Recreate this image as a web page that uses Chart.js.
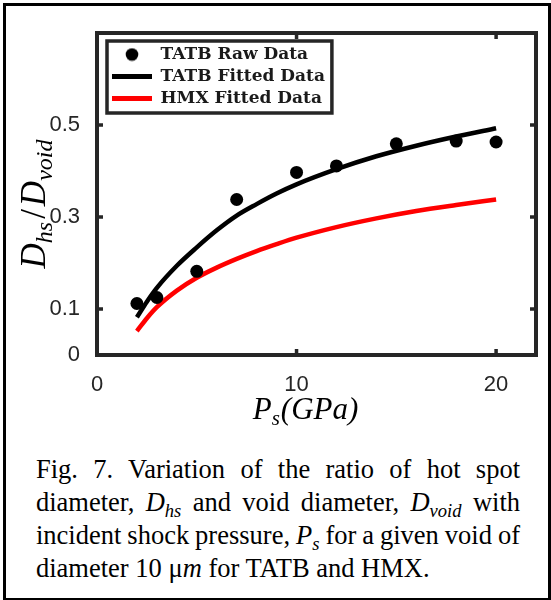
<!DOCTYPE html>
<html>
<head>
<meta charset="utf-8">
<script src="https://cdn.jsdelivr.net/npm/chart.js@4.4.0/dist/chart.umd.min.js"></script>
<style>
html,body{margin:0;padding:0;background:#fff;width:551px;height:600px;overflow:hidden;}
#frame{position:absolute;left:3px;top:3px;width:548px;height:597px;box-sizing:border-box;border:3px solid #000;border-bottom-width:2px;}
#wrap{position:absolute;left:0;top:0;width:551px;height:440px;}
#caption{position:absolute;left:36px;top:453px;width:484px;font-family:"Liberation Serif","Times New Roman",serif;font-size:26.5px;line-height:33px;color:#000;}
#caption .ln{text-align:justify;text-align-last:justify;white-space:nowrap;}
#caption .ln.last{text-align:left;text-align-last:left;}
#caption sub{font-size:70%;vertical-align:-0.3em;line-height:0;}
</style>
</head>
<body>
<div id="frame"></div>
<div id="wrap"><canvas id="c" width="551" height="440"></canvas></div>
<div id="caption">
<div class="ln">Fig. 7. Variation of the ratio of hot spot</div>
<div class="ln">diameter, <i>D</i><sub><i>hs</i></sub> and void diameter, <i>D</i><sub><i>void</i></sub> with</div>
<div class="ln">incident shock pressure, <i>P</i><sub><i>s</i></sub> for a given void of</div>
<div class="ln last">diameter 10 μ<i>m</i> for TATB and HMX.</div>
</div>
<script>
// ---- data ----
const RAW_X = [2, 3, 5, 7, 10, 12, 15, 18, 20];
const RAW_Y = [0.112, 0.125, 0.182, 0.338, 0.397, 0.411, 0.459, 0.465, 0.463];
const FIT_X = [2, 2.5, 3, 4, 5, 6, 7, 8, 9, 10, 12, 14, 16, 18, 20];
const TATB_FIT = [0.082, 0.116, 0.146, 0.194, 0.234, 0.271, 0.303, 0.328, 0.351, 0.371, 0.404, 0.432, 0.455, 0.475, 0.493];
const HMX_FIT  = [0.052, 0.080, 0.104, 0.140, 0.168, 0.190, 0.209, 0.226, 0.241, 0.255, 0.278, 0.297, 0.313, 0.326, 0.338];
const X_TICKS = [0, 10, 20];
const Y_TICKS = [0, 0.1, 0.3, 0.5];
const SERIES_LABELS = ['TATB Raw Data', 'TATB Fitted Data', 'HMX Fitted Data'];

const AXIS_COLOR = '#262626';

// squeeze caption lines that are naturally wider than the column
document.querySelectorAll('#caption .ln').forEach(el => {
  const over = el.scrollWidth - el.clientWidth;
  if (over > 0) {
    const spaces = (el.textContent.match(/ /g) || []).length || 1;
    el.style.wordSpacing = (-(over + 1) / spaces) + 'px';
  }
});

// legend dot marker
const dot = document.createElement('canvas');
dot.width = 14; dot.height = 14;
(function(){const g = dot.getContext('2d'); g.fillStyle = '#000'; g.beginPath(); g.arc(7,7,6.3,0,Math.PI*2); g.fill();})();

const pts = (xs, ys) => xs.map((x, i) => ({x: x, y: ys[i]}));

const framePlugin = {
  id: 'framePlugin',
  afterLayout(chart) {
    const lg = chart.legend, ca = chart.chartArea;
    if (!lg) return;
    const w = lg.width, h = lg.height;
    lg.left = ca.left + 10; lg.top = ca.top + 8;
    lg.right = lg.left + w; lg.bottom = lg.top + h;
  },
  afterDraw(chart) {
    const ctx = chart.ctx, ca = chart.chartArea;
    const xs = chart.scales.x, ys = chart.scales.y;
    ctx.save();
    // inward tick marks on all four sides
    ctx.strokeStyle = AXIS_COLOR; ctx.lineWidth = 3.5; ctx.lineCap = 'butt';
    ctx.beginPath();
    xs.ticks.forEach(t => {
      const px = xs.getPixelForValue(t.value);
      if (px <= ca.left + 3 || px >= ca.right - 3) return;
      ctx.moveTo(px, ca.bottom); ctx.lineTo(px, ca.bottom - 6);
      ctx.moveTo(px, ca.top); ctx.lineTo(px, ca.top + 6);
    });
    ys.ticks.forEach(t => {
      const py = ys.getPixelForValue(t.value);
      if (py >= ca.bottom - 3 || py <= ca.top + 3) return;
      ctx.moveTo(ca.left, py); ctx.lineTo(ca.left + 6, py);
      ctx.moveTo(ca.right, py); ctx.lineTo(ca.right - 6, py);
    });
    ctx.stroke();
    // axes box
    ctx.lineWidth = 4;
    ctx.strokeRect(ca.left, ca.top, ca.right - ca.left, ca.bottom - ca.top);

    // legend box
    const lg = chart.legend;
    if (lg) {
      const lo = lg.options.labels;
      const f = Chart.helpers.toFont(lo.font);
      ctx.font = f.string;
      let mw = 0;
      lg.legendItems.forEach(it => { mw = Math.max(mw, ctx.measureText(it.text).width); });
      const pad = lo.padding;
      const left = lg.left, top = lg.top;
      const right = lg.left + pad + lo.pointStyleWidth + f.size / 2 + mw + 7;
      const bottom = lg.top + pad + lg.legendItems.length * (f.size + pad) + 1;
      ctx.lineWidth = 3.5; ctx.strokeStyle = AXIS_COLOR;
      ctx.strokeRect(left, top, right - left, bottom - top);
    }

    // axis titles (math italic with subscripts)
    const fam = '"Liberation Serif", "Times New Roman", serif';
    function runs(parts) {
      let w = 0;
      parts.forEach(p => { ctx.font = p.f; p.w = ctx.measureText(p.t).width; w += p.w + (p.gap || 0); });
      return w;
    }
    function drawRuns(parts, x0, y0) {
      let x = x0;
      parts.forEach(p => { ctx.font = p.f; ctx.fillText(p.t, x, y0 + (p.dy || 0)); x += p.w + (p.gap || 0); });
    }
    ctx.fillStyle = '#000'; ctx.textBaseline = 'alphabetic'; ctx.textAlign = 'left';
    // x title: P_s(GPa)
    const xBig = 'italic 31px ' + fam, xSmall = 'italic 21px ' + fam;
    const xp = [{t:'P', f:xBig}, {t:'s', f:xSmall, dy:6, gap:1}, {t:'(GPa)', f:xBig}];
    const xw = runs(xp);
    drawRuns(xp, (ca.left + ca.right) / 2 - 11 - xw / 2, ca.bottom + 64);
    // y title: D_hs / D_void
    const yBig = 'italic 35px ' + fam, ySmall = 'italic 24px ' + fam, yUp = '35px ' + fam;
    const yp = [{t:'D', f:yBig}, {t:'hs', f:ySmall, dy:7, gap:3}, {t:'/', f:yUp, gap:3}, {t:'D', f:yBig}, {t:'void', f:ySmall, dy:7}];
    const yw = runs(yp);
    ctx.translate(45, (ca.top + ca.bottom) / 2 + 10);
    ctx.rotate(-Math.PI / 2);
    drawRuns(yp, -yw / 2, 0);
    ctx.restore();
  }
};

const tickFont = {family: '"Liberation Sans", Arial, sans-serif', size: 22};

new Chart(document.getElementById('c'), {
  type: 'scatter',
  data: {
    datasets: [
      {
        label: SERIES_LABELS[0],
        data: pts(RAW_X, RAW_Y),
        showLine: false,
        pointStyle: 'circle',
        pointRadius: 6.5,
        pointHoverRadius: 6.5,
        backgroundColor: '#000',
        borderColor: '#000',
        borderWidth: 0,
        order: 0
      },
      {
        label: SERIES_LABELS[1],
        data: pts(FIT_X, TATB_FIT),
        showLine: true,
        pointRadius: 0,
        borderColor: '#000',
        backgroundColor: '#000',
        borderWidth: 4.5,
        cubicInterpolationMode: 'monotone',
        order: 1
      },
      {
        label: SERIES_LABELS[2],
        data: pts(FIT_X, HMX_FIT),
        showLine: true,
        pointRadius: 0,
        borderColor: '#ff0000',
        backgroundColor: '#ff0000',
        borderWidth: 4.5,
        cubicInterpolationMode: 'monotone',
        order: 2
      }
    ]
  },
  options: {
    responsive: false,
    animation: false,
    devicePixelRatio: 1,
    layout: {padding: {left: 0, top: 33, right: 15, bottom: 0}},
    scales: {
      x: {
        type: 'linear', min: 0, max: 22,
        grid: {display: false},
        border: {display: false},
        afterBuildTicks: s => { s.ticks = X_TICKS.map(v => ({value: v})); },
        afterFit: s => { s.height = 85; },
        ticks: {font: tickFont, color: AXIS_COLOR, padding: 9, maxRotation: 0, callback: v => String(v)}
      },
      y: {
        type: 'linear', min: 0, max: 0.7,
        grid: {display: false},
        border: {display: false},
        afterBuildTicks: s => { s.ticks = Y_TICKS.map(v => ({value: v})); },
        afterFit: s => { s.width = 97; },
        ticks: {font: tickFont, color: AXIS_COLOR, padding: 9, callback: v => String(v)}
      }
    },
    plugins: {
      tooltip: {enabled: false},
      legend: {
        position: 'chartArea',
        align: 'start',
        labels: {
          usePointStyle: true,
          pointStyleWidth: 40,
          padding: 5,
          color: '#1a1a1a',
          font: {family: '"DejaVu Serif", serif', weight: 'bold', size: 17},
          generateLabels(chart) {
            const items = Chart.defaults.plugins.legend.labels.generateLabels(chart);
            items.forEach((it, i) => {
              if (i === 0) { it.pointStyle = dot; }
              else { it.pointStyle = 'line'; it.lineWidth = 5; }
            });
            return items;
          }
        }
      }
    }
  },
  plugins: [framePlugin]
});
</script>
</body>
</html>
